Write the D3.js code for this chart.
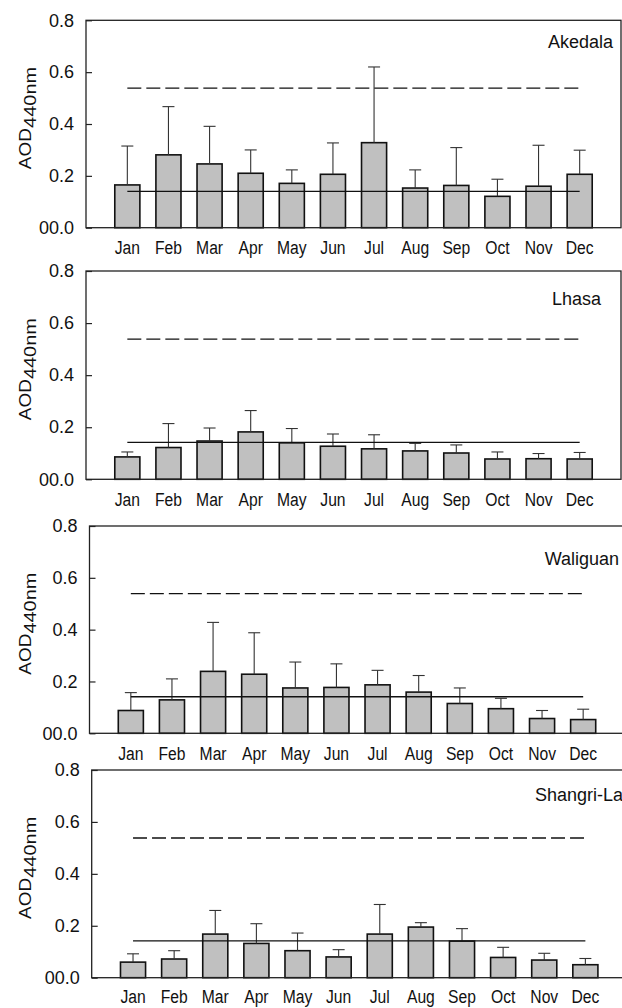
<!DOCTYPE html>
<html>
<head>
<meta charset="utf-8">
<script src="https://d3js.org/d3.v7.min.js"></script>
<style>
  body { margin: 0; background: #fff; }
  svg text { font-family: "Liberation Sans", Arial, sans-serif; fill: #111; }
  .axis path { display: none; }
  .axis line { stroke: #222; stroke-width: 1.2; }
  .x.axis line { display: none; }
  .bar { fill: #c0c0c0; stroke: #111; stroke-width: 1.6; }
  .err { stroke: #333; stroke-width: 1.1; fill: none; }
  .frame { fill: none; stroke: #222; stroke-width: 1.3; }
  .ref { stroke: #111; stroke-width: 1.3; fill: none; }
</style>
</head>
<body>
<div id="chart"></div>
<script>
  var months = ["Jan","Feb","Mar","Apr","May","Jun","Jul","Aug","Sep","Oct","Nov","Dec"];
  var stations = ["Akedala","Lhasa","Waliguan","Shangri-La"];

  // monthly mean AOD and top of the error bar
  var akedalaMean = [0.165,0.281,0.246,0.210,0.171,0.206,0.328,0.153,0.163,0.121,0.160,0.206];
  var akedalaTop  = [0.315,0.467,0.391,0.300,0.223,0.327,0.620,0.223,0.309,0.187,0.318,0.299];
  var lhasaMean   = [0.086,0.122,0.147,0.182,0.140,0.127,0.117,0.109,0.101,0.078,0.079,0.078];
  var lhasaTop    = [0.105,0.214,0.197,0.264,0.195,0.174,0.171,0.138,0.132,0.105,0.099,0.103];
  var waliguanMean = [0.088,0.129,0.239,0.228,0.175,0.177,0.187,0.159,0.115,0.095,0.057,0.053];
  var waliguanTop  = [0.157,0.210,0.428,0.388,0.275,0.268,0.243,0.223,0.175,0.135,0.088,0.093];
  var shangrilaMean = [0.060,0.072,0.168,0.132,0.104,0.080,0.168,0.195,0.141,0.078,0.068,0.050];
  var shangrilaTop  = [0.092,0.104,0.259,0.208,0.172,0.108,0.282,0.212,0.189,0.117,0.094,0.074];

  var solidRef = [0.140,0.142,0.141,0.142];
  var dashRef  = [0.538,0.538,0.539,0.538];

  var yTicks = [0, 0.2, 0.4, 0.6, 0.8];
  var yTickLabels = ["00.0","0.2","0.4","0.6","0.8"];

  var means = [akedalaMean, lhasaMean, waliguanMean, shangrilaMean];
  var tops = [akedalaTop, lhasaTop, waliguanTop, shangrilaTop];

  // panel placement on the page
  var layout = [
    {x0: 86,   x1: 621,   yTop: 20.3, yBot: 227.7, lx: 613, ly: 48,  pad: 14},
    {x0: 86,   x1: 621,   yTop: 271,  yBot: 479.3, lx: 601, ly: 305, pad: 14},
    {x0: 89.5, x1: 624.5, yTop: 526,  yBot: 733.3, lx: 619, ly: 565, pad: 14},
    {x0: 91.7, x1: 626.7, yTop: 770,  yBot: 977.7, lx: 623, ly: 801, pad: 12.5}
  ];

  var svg = d3.select("#chart").append("svg")
    .attr("width", 622)
    .attr("height", 1008);

  stations.forEach(function(name, p) {
    var L = layout[p];
    var x = d3.scaleBand().domain(months).range([L.x0, L.x1])
      .paddingInner(0.39).paddingOuter(0.7);
    var y = d3.scaleLinear().domain([0, 0.8]).range([L.yBot, L.yTop]);

    var g = svg.append("g").attr("class", "panel");

    var rows = months.map(function(m, i) {
      return {month: m, mean: means[p][i], top: tops[p][i]};
    });

    // bars
    g.selectAll(".bar").data(rows).enter().append("rect")
      .attr("class", "bar")
      .attr("x", function(d) { return x(d.month); })
      .attr("width", x.bandwidth())
      .attr("y", function(d) { return y(d.mean); })
      .attr("height", function(d) { return y(0) - y(d.mean); });

    // error bars (upper only)
    var cap = 6;
    g.selectAll(".errv").data(rows).enter().append("line")
      .attr("class", "err")
      .attr("x1", function(d) { return x(d.month) + x.bandwidth() / 2; })
      .attr("x2", function(d) { return x(d.month) + x.bandwidth() / 2; })
      .attr("y1", function(d) { return y(d.mean); })
      .attr("y2", function(d) { return y(d.top); });
    g.selectAll(".errc").data(rows).enter().append("line")
      .attr("class", "err")
      .attr("x1", function(d) { return x(d.month) + x.bandwidth() / 2 - cap; })
      .attr("x2", function(d) { return x(d.month) + x.bandwidth() / 2 + cap; })
      .attr("y1", function(d) { return y(d.top); })
      .attr("y2", function(d) { return y(d.top); });

    var cx0 = x(months[0]) + x.bandwidth() / 2;
    var cx1 = x(months[11]) + x.bandwidth() / 2;

    g.append("line").attr("class", "ref")
      .attr("x1", cx0).attr("x2", cx1)
      .attr("y1", y(solidRef[p])).attr("y2", y(solidRef[p]));
    g.append("line").attr("class", "ref")
      .attr("stroke-dasharray", "14,5")
      .attr("x1", cx0).attr("x2", cx1)
      .attr("y1", y(dashRef[p])).attr("y2", y(dashRef[p]));

    // frame
    g.append("rect").attr("class", "frame")
      .attr("x", L.x0).attr("y", L.yTop)
      .attr("width", L.x1 - L.x0).attr("height", L.yBot - L.yTop);

    var yAxis = d3.axisLeft(y)
      .tickValues(yTicks)
      .tickSize(-6)
      .tickPadding(12)
      .tickFormat(function(d, i) { return yTickLabels[i]; });
    g.append("g").attr("class", "y axis")
      .attr("transform", "translate(" + L.x0 + ",0)")
      .call(yAxis)
      .selectAll("text").attr("font-size", 18).attr("font-family", null);

    var xAxis = d3.axisBottom(x).tickSize(0).tickPadding(L.pad);
    g.append("g").attr("class", "x axis")
      .attr("transform", "translate(0," + L.yBot + ")")
      .call(xAxis)
      .selectAll("text")
      .attr("font-size", 18)
      .attr("font-family", null)
      .attr("transform", "scale(0.87,1)");

    // station name
    g.append("text")
      .attr("x", L.lx).attr("y", L.ly)
      .attr("text-anchor", "end")
      .attr("font-size", 18)
      .text(name);

    // y title
    var cy = (L.yTop + L.yBot) / 2 - 6;
    var t = g.append("text")
      .attr("transform", "translate(31," + cy + ") rotate(-90) scale(1,0.85)")
      .attr("text-anchor", "middle")
      .attr("font-size", 19);
    t.append("tspan").text("AOD");
    t.append("tspan").attr("dy", 6).attr("font-size", 20).text("440nm");
  });
</script>
</body>
</html>
